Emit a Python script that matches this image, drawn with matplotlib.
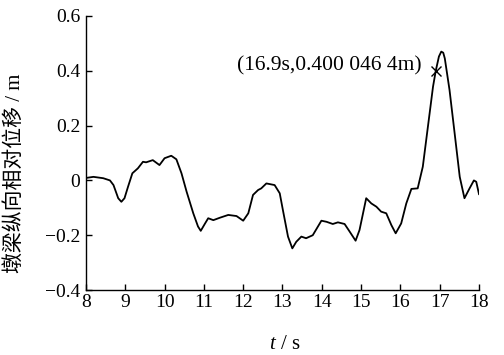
import matplotlib
matplotlib.use('Agg')
import matplotlib.pyplot as plt

plt.rcParams['font.family'] = ['Liberation Serif', 'Noto Sans CJK SC']
plt.rcParams['mathtext.fontset'] = 'custom'
plt.rcParams['mathtext.rm'] = 'Liberation Serif'
plt.rcParams['mathtext.it'] = 'Liberation Serif:italic'
plt.rcParams['axes.unicode_minus'] = True

# time (s) and relative displacement (m)
t = [8.00, 8.19, 8.44, 8.61, 8.70, 8.82, 8.90, 8.98, 9.07, 9.18, 9.32, 9.45, 9.53,
     9.70, 9.87, 10.00, 10.17, 10.30, 10.43, 10.56, 10.73, 10.85, 10.92, 11.03, 11.11,
     11.24, 11.41, 11.62, 11.83, 12.00, 12.13, 12.25, 12.38, 12.46, 12.59, 12.80,
     12.93, 13.01, 13.14, 13.25, 13.35, 13.48, 13.60, 13.77, 13.99, 14.12, 14.28,
     14.41, 14.58, 14.71, 14.86, 14.96, 15.13, 15.26, 15.39, 15.51, 15.64, 15.77,
     15.88, 16.02, 16.15, 16.28, 16.44, 16.57, 16.70, 16.83, 16.90, 16.98, 17.04,
     17.09, 17.13, 17.25, 17.38, 17.51, 17.63, 17.76, 17.87, 17.93, 18.00]
d = [0.009, 0.013, 0.008, 0.000, -0.017, -0.065, -0.078, -0.065, -0.023, 0.026,
     0.044, 0.068, 0.066, 0.074, 0.056, 0.081, 0.090, 0.077, 0.026, -0.041, -0.120,
     -0.168, -0.184, -0.157, -0.138, -0.145, -0.136, -0.126, -0.130, -0.147, -0.120, -0.053,
     -0.035, -0.029, -0.011, -0.017, -0.047, -0.108, -0.205, -0.248, -0.224, -0.205,
     -0.211, -0.200, -0.147, -0.151, -0.159, -0.153, -0.159, -0.187, -0.220, -0.181,
     -0.065, -0.084, -0.096, -0.114, -0.120, -0.163, -0.193, -0.157, -0.084, -0.031,
     -0.029, 0.050, 0.196, 0.342, 0.400, 0.452, 0.470, 0.466, 0.445, 0.330, 0.172, 0.013,
     -0.065, -0.029, 0.000, -0.005, -0.050]

peak_t = 16.9
peak_d = 0.4000464
peak_label = '(16.9s,0.400 046 4m)'

yticks = [-0.4, -0.2, 0, 0.2, 0.4, 0.6]
ylabels = ['\u22120.4', '\u22120.2', '0', '0.2', '0.4', '0.6']
xticks = list(range(8, 19))

fig = plt.figure(figsize=(5.04, 3.55), dpi=100)
ax = fig.add_axes([0.1706, 0.183, 0.7798, 0.772])

ax.plot(t, d, color='k', lw=1.3)
ax.plot(peak_t, peak_d, marker='x', color='k', ms=7, mew=1.0)
ax.text(peak_t - 0.37, peak_d + 0.018, peak_label, ha='right', va='center', fontsize=15.5)

ax.set_xlim(8, 18)
ax.set_ylim(-0.4, 0.6)
ax.set_xticks(xticks)
ax.set_yticks(yticks)
ax.set_yticklabels(ylabels)
ax.tick_params(direction='in', length=4, width=1, labelsize=14)
ax.tick_params(axis='x', pad=3)
ax.tick_params(axis='y', pad=4)
ax.spines['top'].set_visible(False)
ax.spines['right'].set_visible(False)
for s in ['left', 'bottom']:
    ax.spines[s].set_linewidth(1)

ax.set_xlabel('$t$ / s', fontsize=15)
ax.xaxis.set_label_coords(0.506, -0.164)
ax.set_ylabel('墩梁纵向相对位移 / m', fontsize=15)
ax.yaxis.label.set_va('center')
ax.yaxis.set_label_coords(-0.181, 0.425)

fig.savefig('out.png', dpi=100)
